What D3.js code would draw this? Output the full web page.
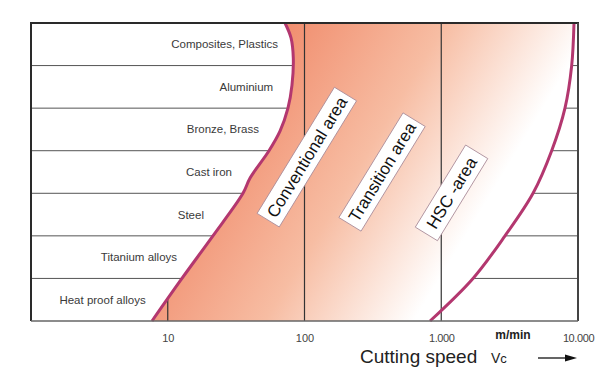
<!DOCTYPE html>
<html>
<head>
<meta charset="utf-8">
<script src="https://cdn.jsdelivr.net/npm/d3@7"></script>
<style>
	body { margin: 0; background: #fff; }
	svg { font-family: 'Liberation Sans', Arial, sans-serif; }
</style>
</head>
<body>
<svg id="chart" width="600" height="370"></svg>
<script>

// materials, top to bottom
let materials = ['Composites, Plastics', 'Aluminium', 'Bronze, Brass', 'Cast iron', 'Steel', 'Titanium alloys', 'Heat proof alloys'];
// speed (m/min) where each material label ends
let labelEndSpeed = [64, 59, 46.5, 29.5, 18.4, 11.7, 6.9];

// left boundary (conventional start): row position (0 = top) and speed
let leftPos = [0, 0.35, 0.82, 1.46, 2, 2.54, 3, 3.64, 4, 5, 6, 7];
let leftSpeed = [72, 79.7, 82.8, 81, 75.7, 66.2, 55, 40, 35.5, 21.4, 12.7, 7.67];

// right boundary (HSC limit)
let rightPos = [0, 1, 2, 3, 4, 5, 6, 7];
let rightSpeed = [9350, 8990, 8030, 6420, 4690, 2925, 1707, 828];

// rotated zone labels
let zoneNames = ['Conventional area', 'Transition area', 'HSC -area'];
let zoneSpeed = [104, 369, 1189];
let zonePos = [3.15, 3.5, 3.99];

let gridSpeeds = [10, 100, 1000];
let tickValues = [10, 100, 1000, 10000];
let tickLabels = ['10', '100', '1.000', '10.000'];

let svg = d3.select('#chart');
let plotL = 31, plotR = 578, plotT = 23, plotB = 321;

let xScale = d3.scaleLog()
	.domain([1, 10000])
	.range([plotL, plotR]);
let yScale = d3.scaleLinear()
	.domain([0, materials.length])
	.range([plotT, plotB]);

let leftPts = leftPos.map((p, i) => [leftSpeed[i], p]);
let rightPts = rightPos.map((p, i) => [rightSpeed[i], p]);

let curve = d3.line()
	.x(d => xScale(d[0]))
	.y(d => yScale(d[1]))
	.curve(d3.curveCatmullRom);

let leftPath = curve(leftPts);
let rightPathRev = curve(rightPts.slice().reverse());
let areaPath = leftPath + rightPathRev.replace(/^M/, 'L') + 'Z';
let clipPathD = leftPath + `L${plotR},${plotB}L${plotR},${plotT}Z`;

// defs: gradient + clip
let defs = svg.append('defs');
let grad = defs.append('linearGradient')
	.attr('id', 'zoneGrad')
	.attr('gradientUnits', 'userSpaceOnUse')
	.attr('x1', 190).attr('y1', 110)
	.attr('x2', 520).attr('y2', 310);
grad.append('stop').attr('offset', 0).attr('stop-color', '#ef8160');
grad.append('stop').attr('offset', 0.45).attr('stop-color', '#f7bda3');
grad.append('stop').attr('offset', 0.78).attr('stop-color', '#ffffff');

defs.append('clipPath')
	.attr('id', 'rightOfLeft')
	.append('path')
	.attr('d', clipPathD);

// row lines
svg.append('g')
	.selectAll('line')
	.data(d3.range(1, materials.length))
	.join('line')
	.attr('x1', plotL).attr('x2', plotR)
	.attr('y1', d => yScale(d)).attr('y2', d => yScale(d))
	.attr('stroke', '#555')
	.attr('stroke-width', 1);

// filled zone
svg.append('path')
	.attr('d', areaPath)
	.attr('fill', 'url(#zoneGrad)')
	.attr('stroke', 'none');

// vertical grid lines, right of left boundary
svg.append('g')
	.attr('clip-path', 'url(#rightOfLeft)')
	.selectAll('line')
	.data(gridSpeeds)
	.join('line')
	.attr('x1', d => xScale(d)).attr('x2', d => xScale(d))
	.attr('y1', plotT).attr('y2', plotB)
	.attr('stroke', '#333')
	.attr('stroke-width', 1.2);

// boundaries
[leftPath, curve(rightPts)].forEach(d => {
	svg.append('path')
		.attr('d', d)
		.attr('fill', 'none')
		.attr('stroke', '#b3376f')
		.attr('stroke-width', 3);
});

// frame
svg.append('line').attr('x1', plotL).attr('x2', plotL).attr('y1', plotT - 1).attr('y2', plotB)
	.attr('stroke', '#2a2a2a').attr('stroke-width', 2);
svg.append('line').attr('x1', plotL - 1).attr('x2', plotR + 1).attr('y1', plotT).attr('y2', plotT)
	.attr('stroke', '#2a2a2a').attr('stroke-width', 2);
svg.append('line').attr('x1', plotR).attr('x2', plotR).attr('y1', plotT).attr('y2', plotB)
	.attr('stroke', '#444').attr('stroke-width', 2);
svg.append('line').attr('x1', plotL).attr('x2', plotR).attr('y1', plotB).attr('y2', plotB)
	.attr('stroke', '#666').attr('stroke-width', 1.5);

// material labels
svg.append('g')
	.selectAll('text')
	.data(materials)
	.join('text')
	.attr('x', (d, i) => xScale(labelEndSpeed[i]))
	.attr('y', (d, i) => yScale(i + 0.5) + 4)
	.attr('text-anchor', 'end')
	.attr('font-size', 11.5)
	.attr('fill', '#3a3a3a')
	.text(d => d);

// zone labels
zoneNames.forEach((name, i) => {
	let g = svg.append('g')
		.attr('transform', `translate(${xScale(zoneSpeed[i])},${yScale(zonePos[i])}) rotate(-58.5)`);
	let rect = g.append('rect');
	let t = g.append('text')
		.attr('text-anchor', 'middle')
		.attr('y', 6)
		.attr('font-size', 17)
		.attr('fill', '#111')
		.text(name);
	let w = t.node().getComputedTextLength() + (i == 2 ? 16 : 10);
	rect.attr('x', -w / 2).attr('y', -13)
		.attr('width', w).attr('height', 26)
		.attr('fill', '#fff')
		.attr('stroke', '#a88a98')
		.attr('stroke-width', 0.8);
});

// x axis
let axis = d3.axisBottom(xScale)
	.tickValues(tickValues)
	.tickSize(0)
	.tickPadding(13)
	.tickFormat((d, i) => tickLabels[i]);
let axisG = svg.append('g')
	.attr('transform', `translate(0,${plotB})`)
	.call(axis);
axisG.select('.domain').remove();
axisG.selectAll('text')
	.attr('font-family', "'Liberation Sans', Arial, sans-serif")
	.attr('font-size', 11)
	.attr('fill', '#444')
	.attr('letter-spacing', (d, i) => i >= 2 ? -0.4 : 0);

svg.append('text')
	.attr('x', 513).attr('y', 339)
	.attr('text-anchor', 'middle')
	.attr('font-size', 12)
	.attr('font-weight', 'bold')
	.attr('fill', '#222')
	.text('m/min');

let title = svg.append('text')
	.attr('x', 360).attr('y', 363)
	.attr('fill', '#222');
title.append('tspan').attr('font-size', 19).text('Cutting speed');
title.append('tspan').attr('x', 491).attr('font-size', 14).text('V');
title.append('tspan').attr('font-size', 13).text('c');

// arrow
svg.append('line')
	.attr('x1', 538).attr('x2', 568).attr('y1', 358).attr('y2', 358)
	.attr('stroke', '#111').attr('stroke-width', 1.3);
svg.append('path')
	.attr('d', 'M565,354.5L577,358L565,361.5Z')
	.attr('fill', '#111');

</script>
</body>
</html>
